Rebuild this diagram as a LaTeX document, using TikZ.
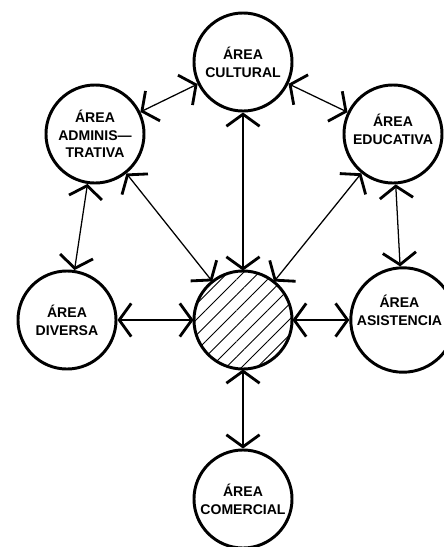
\documentclass[tikz,border=0pt]{standalone}
\usepackage{fontspec}
\setmainfont{Liberation Sans}
\usetikzlibrary{arrows.meta,patterns.meta}

\begin{document}
\begin{tikzpicture}[x=0.025cm, y=-0.025cm,
  >={Straight Barb[length=0.3cm, width=0.83cm, line width=2pt]},
  font=\fontsize{10}{12.6}\selectfont\bfseries,
  area/.style={draw, circle, line width=2.1pt, minimum size=2.45cm, inner sep=0pt, align=center},
  link/.style={<->, line width=0.9pt}]
\useasboundingbox (0,0) rectangle (443,547);
\node[area] (cul) at (243,62) {ÁREA\\CULTURAL};
\node[area] (adm) at (95,134) {ÁREA\\ADMINIS---\\TRATIVA};
\node[area, text depth=7pt] (edu) at (393,134) {ÁREA\\EDUCATIVA};
\node[area] (div) at (67,320) {ÁREA\\DIVERSA};
\node[area, pattern={Lines[angle=45, distance=7.8pt, line width=0.6pt]}] (cen) at (243,320) {};
\node[area, text depth=14pt] (asi) at (403,320) {ÁREA\kern5pt\\ASISTENCIA\kern5pt};
\node[area] (com) at (243,499) {ÁREA\\COMERCIAL};
\draw[link] (adm) -- (cul); \draw[link] (cul) -- (edu);
\draw[link] (adm) -- (div); \draw[link] (edu) -- (asi);
\draw[link] (cen) -- (cul); \draw[link] (cen) -- (adm);
\draw[link] (cen) -- (edu); \draw[link] (cen) -- (div);
\draw[link] (cen) -- (asi); \draw[link] (cen) -- (com);
\end{tikzpicture}
\end{document}
